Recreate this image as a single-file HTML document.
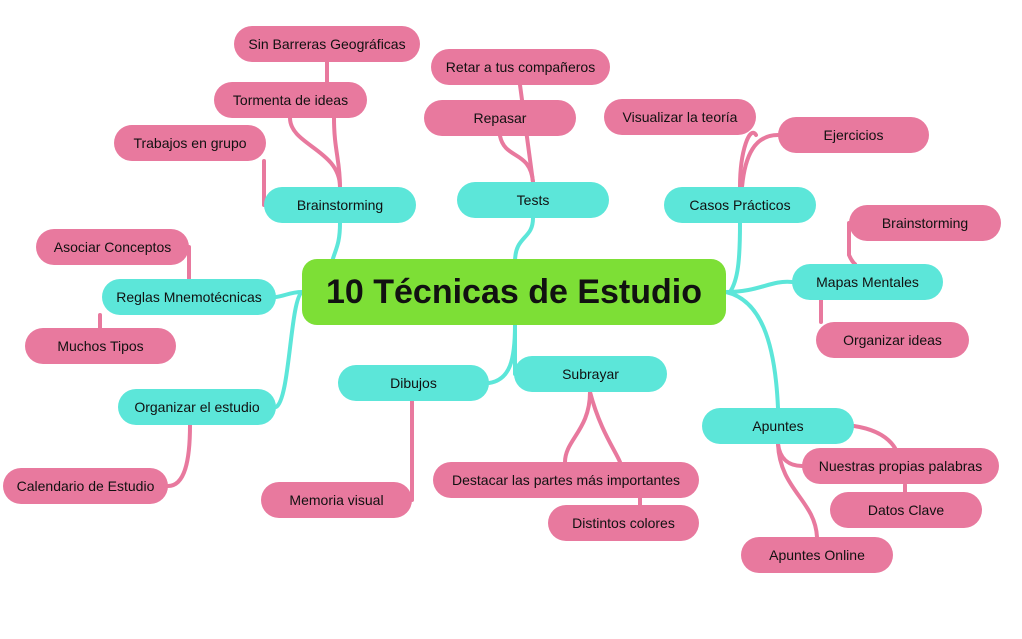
<!DOCTYPE html>
<html><head><meta charset="utf-8"><style>
body{margin:0;width:1022px;height:639px;background:#fff;position:relative;overflow:hidden;font-family:"Liberation Sans",sans-serif}
.n{position:absolute;height:36px;border-radius:18px;display:flex;align-items:center;justify-content:center;font-size:14px;color:#111;white-space:nowrap}
.c{background:#5ce6d9}.p{background:#e8799e}
svg{position:absolute;left:0;top:0}
</style></head><body>
<svg width="1022" height="639" fill="none" stroke-linecap="round">
<g stroke="#5ce6d9" stroke-width="4">
<path d="M340 223 C340 245 335 250 332 262"/>
<path d="M533 218 C533 240 515 235 515 262"/>
<path d="M740 223 C740 260 738 280 730 292"/>
<path d="M726 292 C760 292 770 280 792 282"/>
<path d="M726 292 C760 300 775 340 778 408"/>
<path d="M302 292 C290 292 285 296 276 297"/>
<path d="M302 292 C290 300 290 400 276 407"/>
<path d="M515 325 C515 360 510 380 489 383"/>
<path d="M515 325 L515 374"/>
</g>
<g stroke="#e8799e" stroke-width="4">
<path d="M327 62 L327 82"/>
<path d="M334 118 C334 150 340 160 340 187"/>
<path d="M290 118 C290 145 340 150 340 187"/>
<path d="M264 161 L264 205"/>
<path d="M520 85 L533 182"/>
<path d="M500 136 C505 160 530 150 533 182"/>
<path d="M740 187 C740 150 750 125 756 135"/>
<path d="M778 135 C755 135 745 155 742 187"/>
<path d="M849 223 L849 255 C852 262 855 264 855 264"/>
<path d="M821 300 L821 322"/>
<path d="M189 247 L189 279"/>
<path d="M100 315 L100 328"/>
<path d="M190 425 C190 460 185 486 168 486"/>
<path d="M412 401 L412 500"/>
<path d="M590 392 C590 430 565 440 565 462"/>
<path d="M590 392 C600 430 615 450 620 462"/>
<path d="M640 498 L640 505"/>
<path d="M854 426 C880 430 890 440 895 448"/>
<path d="M778 444 C780 460 790 466 802 466"/>
<path d="M778 444 C780 490 815 500 817 537"/>
<path d="M905 485 L905 492"/>
</g>
</svg>
<div class="n" style="left:302px;top:259px;width:424px;height:66px;border-radius:15px;background:#7ddf36;font-size:34px;font-weight:bold">10 Técnicas de Estudio</div>
<div class="n c" style="left:264px;top:187px;width:152px">Brainstorming</div>
<div class="n c" style="left:457px;top:182px;width:152px">Tests</div>
<div class="n c" style="left:664px;top:187px;width:152px">Casos Prácticos</div>
<div class="n c" style="left:792px;top:264px;width:151px">Mapas Mentales</div>
<div class="n c" style="left:102px;top:279px;width:174px">Reglas Mnemotécnicas</div>
<div class="n c" style="left:118px;top:389px;width:158px">Organizar el estudio</div>
<div class="n c" style="left:338px;top:365px;width:151px">Dibujos</div>
<div class="n c" style="left:514px;top:356px;width:153px">Subrayar</div>
<div class="n c" style="left:702px;top:408px;width:152px">Apuntes</div>
<div class="n p" style="left:234px;top:26px;width:186px">Sin Barreras Geográficas</div>
<div class="n p" style="left:214px;top:82px;width:153px">Tormenta de ideas</div>
<div class="n p" style="left:114px;top:125px;width:152px">Trabajos en grupo</div>
<div class="n p" style="left:431px;top:49px;width:179px">Retar a tus compañeros</div>
<div class="n p" style="left:424px;top:100px;width:152px">Repasar</div>
<div class="n p" style="left:604px;top:99px;width:152px">Visualizar la teoría</div>
<div class="n p" style="left:778px;top:117px;width:151px">Ejercicios</div>
<div class="n p" style="left:849px;top:205px;width:152px">Brainstorming</div>
<div class="n p" style="left:816px;top:322px;width:153px">Organizar ideas</div>
<div class="n p" style="left:36px;top:229px;width:153px">Asociar Conceptos</div>
<div class="n p" style="left:25px;top:328px;width:151px">Muchos Tipos</div>
<div class="n p" style="left:3px;top:468px;width:165px">Calendario de Estudio</div>
<div class="n p" style="left:261px;top:482px;width:151px">Memoria visual</div>
<div class="n p" style="left:433px;top:462px;width:266px">Destacar las partes más importantes</div>
<div class="n p" style="left:548px;top:505px;width:151px">Distintos colores</div>
<div class="n p" style="left:802px;top:448px;width:197px">Nuestras propias palabras</div>
<div class="n p" style="left:830px;top:492px;width:152px">Datos Clave</div>
<div class="n p" style="left:741px;top:537px;width:152px">Apuntes Online</div>
</body></html>
